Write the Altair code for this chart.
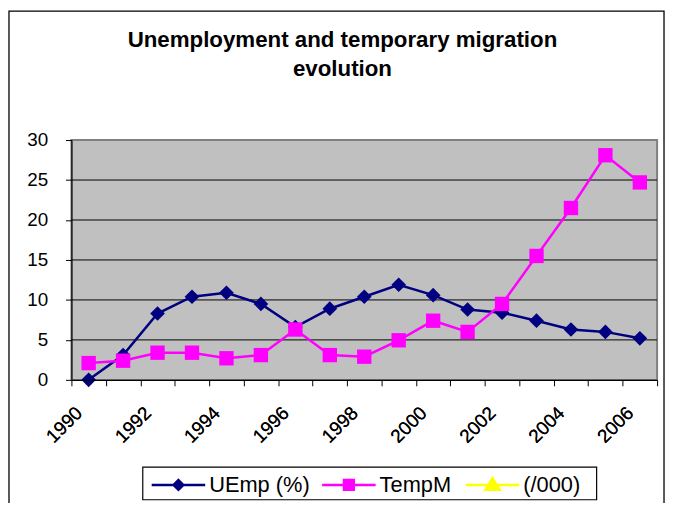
import altair as alt
import pandas as pd

# ---- data ----
years = list(range(1990, 2007))
uemp = [0.0, 3.1, 8.3, 10.4, 10.9, 9.5, 6.6, 8.9, 10.4, 11.9, 10.6, 8.8, 8.4, 7.4, 6.3, 6.0, 5.2]
tempm = [2.1, 2.4, 3.4, 3.4, 2.7, 3.1, 6.3, 3.1, 2.9, 4.95, 7.4, 6.0, 9.5, 15.5, 21.5, 28.1, 24.7]
series_names = ["UEmp (%)", "TempM", "(/000)"]
series_colors = ["#000080", "#FF00FF", "#FFFF00"]
marker_shapes = ["diamond", "square", "triangle-up"]
marker_sizes = [220, 210, 210]
# legend symbols: a line segment with a marker built from nested outlines (stroke only)
legend_paths = [
    "M-3,0H3M0,-0.55L0.55,0L0,0.55L-0.55,0ZM0,-0.32L0.32,0L0,0.32L-0.32,0ZM0,-0.1L0.1,0L0,0.1L-0.1,0Z",
    "M-3,0H3M-0.55,-0.55H0.55V0.55H-0.55ZM-0.3,-0.3H0.3V0.3H-0.3ZM-0.08,-0.08H0.08V0.08H-0.08Z",
    "M-3,0H3M0,-0.75L0.8,0.55H-0.8ZM0,-0.4L0.48,0.38H-0.48ZM0,-0.1L0.2,0.22H-0.2Z",
]
legend_x = [80, 252, 397]
y_ticks = [0, 5, 10, 15, 20, 25, 30]
x_label_years = years[::2]
title_lines = ["Unemployment and temporary migration", "evolution"]

FONT = "Liberation Sans"
PLOT_W, PLOT_H = 591, 242
LEGEND_Y = 337

rows = []
for name, vals in [(series_names[0], uemp), (series_names[1], tempm)]:
    for yr, v in zip(years, vals):
        rows.append({"year": yr, "value": v, "series": name})
df = pd.DataFrame(rows)
grid_df = pd.DataFrame({"tick": y_ticks[1:-1]})

boundaries = [y - 0.5 for y in years] + [years[-1] + 0.5]

x_scale = alt.Scale(domain=[years[0] - 0.5, years[-1] + 0.5], nice=False, zero=False)
y_scale = alt.Scale(domain=[y_ticks[0], y_ticks[-1]], nice=False, zero=True)
color_scale = alt.Scale(domain=series_names, range=series_colors)

x_tick_axis = alt.Axis(
    values=boundaries,
    title=None,
    grid=False,
    labels=False,
    domainColor="black",
    domainWidth=1.2,
    tickColor="black",
    tickSize=6,
    tickWidth=1,
    orient="bottom",
    zindex=1,
)

x_label_axis = alt.Axis(
    values=x_label_years,
    format="d",
    title=None,
    grid=False,
    domain=False,
    ticks=False,
    tickSize=0,
    labelAngle=-45,
    labelAlign="right",
    labelBaseline="middle",
    labelFont=FONT,
    labelFontSize=19,
    labelColor="black",
    labelPadding=30,
    labelOffset=-10,
    labelOverlap=False,
    labelFlush=False,
    labelBound=False,
    orient="bottom",
    zindex=1,
)

y_axis = alt.Axis(
    values=y_ticks,
    title=None,
    grid=False,
    domainColor="black",
    domainWidth=1.2,
    tickColor="black",
    tickSize=6,
    labelFont=FONT,
    labelFontSize=19,
    labelColor="black",
    labelPadding=18,
    zindex=1,
)

background = alt.Chart(alt.Data(values=[{}])).mark_rect(
    fill="#C0C0C0", stroke="#808080", strokeWidth=2
).encode(
    x=alt.value(0), x2=alt.value(PLOT_W), y=alt.value(0), y2=alt.value(PLOT_H)
)

gridlines = alt.Chart(grid_df).mark_rule(color="black", strokeWidth=1).encode(
    y=alt.Y("tick:Q", scale=y_scale, axis=y_axis),
    x=alt.value(0),
    x2=alt.value(PLOT_W),
)

lines = alt.Chart(df).mark_line(strokeWidth=2.5).encode(
    x=alt.X("year:Q", scale=x_scale, axis=x_tick_axis),
    y=alt.Y("value:Q", scale=y_scale, axis=y_axis),
    color=alt.Color("series:N", scale=color_scale, legend=None),
)

point_layers = []
for name, shp, sz in zip(series_names[:2], marker_shapes, marker_sizes):
    point_layers.append(
        alt.Chart(df).transform_filter(alt.datum.series == name).mark_point(
            filled=True, opacity=1, shape=shp, size=sz
        ).encode(
            x=alt.X("year:Q", scale=x_scale, axis=x_label_axis),
            y=alt.Y("value:Q", scale=y_scale, axis=y_axis),
            color=alt.Color("series:N", scale=color_scale, legend=None),
        )
    )

# legend: one shape legend per series (independent shape scales), inside a common box
legend_box = alt.Chart(alt.Data(values=[{}])).mark_rect(
    fill="white", stroke="black", strokeWidth=1.2
).encode(
    x=alt.value(72), x2=alt.value(530), y=alt.value(LEGEND_Y - 7), y2=alt.value(LEGEND_Y + 26)
)

legend_layers = []
for name, color, path, lx in zip(series_names, series_colors, legend_paths, legend_x):
    leg = alt.Legend(
        orient="none",
        legendX=lx,
        legendY=LEGEND_Y,
        title=None,
        labelFont=FONT,
        labelFontSize=22,
        labelColor="black",
        padding=0,
        symbolSize=324,
        symbolStrokeWidth=2.5,
        symbolStrokeColor=color,
        symbolFillColor=color,
        symbolOffset=17,
        labelOffset=20,
        symbolOpacity=1,
    )
    legend_layers.append(
        alt.Chart(pd.DataFrame({"series": [name]})).transform_filter("false").mark_point(
            filled=False, strokeWidth=2.5
        ).encode(
            shape=alt.Shape("series:N", scale=alt.Scale(domain=[name], range=[path]), legend=leg),
        )
    )

frame = alt.Chart(alt.Data(values=[{}])).mark_rect(
    fillOpacity=0, stroke="black", strokeWidth=1.3
).encode(
    x=alt.value(-63), x2=alt.value(598), y=alt.value(-130), y2=alt.value(420)
)

chart = alt.layer(
    frame, background, gridlines, lines, *point_layers, legend_box, *legend_layers
).resolve_axis(
    x="independent"
).resolve_scale(
    shape="independent"
).properties(
    width=PLOT_W,
    height=PLOT_H,
    padding={"left": 64, "top": 131, "right": 9, "bottom": 122},
    autosize=alt.AutoSizeParams(type="none"),
    title=alt.TitleParams(
        text=title_lines,
        font=FONT,
        fontSize=22.5,
        fontWeight="bold",
        color="black",
        anchor="middle",
        frame="group",
        dx=-22,
        offset=-71,
        lineHeight=30,
    ),
)

chart.save("out.html", embed_options={"renderer": "svg", "actions": False})
